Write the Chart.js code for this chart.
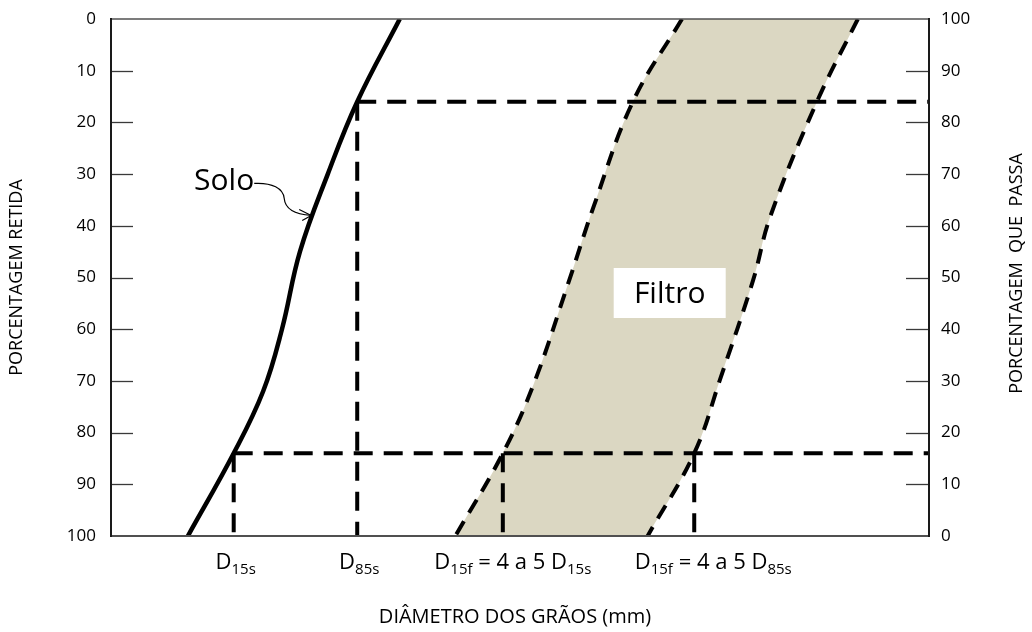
<!DOCTYPE html>
<html lang="pt">
<head>
<meta charset="utf-8">
<title>Critério de filtro – curvas granulométricas</title>
<script src="https://cdn.jsdelivr.net/npm/chart.js@4.4.1/dist/chart.umd.min.js"></script>
<style>
  html, body { margin: 0; padding: 0; background: #ffffff; }
  #quadro { width: 1032px; height: 632px; position: relative; }
</style>
</head>
<body>
<div id="quadro"><canvas id="grafico" width="1032" height="632"></canvas></div>
<script>
// Eixo horizontal: posição relativa do diâmetro (escala logarítmica esquemática, 0–100)
// Curva granulométrica do solo
const soloDiametro = [35.3, 30.1, 26.5, 23.1, 20.9, 18.6, 15.0, 9.4];
const soloRetida   = [0, 16, 30, 45, 60, 72, 84, 100];

// Faixa do filtro: limite fino (esquerda) e limite grosso (direita)
const filtroFinoDiametro   = [69.8, 63.8, 59.0, 55.9, 51.7, 47.9, 42.1];
const filtroFinoRetida     = [0, 16, 36.3, 51.1, 70.5, 84, 100];
const filtroGrossoDiametro = [91.3, 86.3, 80.6, 78.5, 74.5, 71.3, 65.6];
const filtroGrossoRetida   = [0, 16, 38.2, 50.5, 69.5, 84, 100];

// Diâmetros característicos (linhas verticais tracejadas) e onde começam
const marcaDiametro = [15.0, 30.1, 47.9, 71.3];
const marcaRetidaInicio = [84, 16, 84, 84];
// Rótulos do eixo horizontal: [texto, subscrito?]
const marcaRotulo = [
  [['D', 0], ['15s', 1]],
  [['D', 0], ['85s', 1]],
  [['D', 0], ['15f', 1], [' = 4 a 5 D', 0], ['15s', 1]],
  [['D', 0], ['15f', 1], [' = 4 a 5 D', 0], ['85s', 1]]
];

// Linhas horizontais tracejadas (85% e 15% que passa)
const linhaRetida = [16, 84];
const linhaDiametroInicio = [30.1, 15.0];

// Eixos
const retidaMin = 0, retidaMax = 100, retidaPasso = 10;
const diametroMin = 0, diametroMax = 100;

// Títulos
const tituloX = 'DIÂMETRO DOS GRÃOS (mm)';
const tituloRetida = 'PORCENTAGEM RETIDA';
const tituloPassa = 'PORCENTAGEM  QUE  PASSA';

// Anotações
const soloSeta = { diametro: 24.6, retida: 38 };
const filtroRotulo = { diametro: 68.3, retida: 53 };

const FONTE = '"Open Sans", "DejaVu Sans", sans-serif';

const pares = (xs, ys) => xs.map((x, i) => ({ x: x, y: ys[i] }));

const datasets = [
  {
    label: 'Filtro – limite fino',
    data: pares(filtroFinoDiametro, filtroFinoRetida),
    borderColor: '#000000', borderWidth: 4, borderDash: [15, 10],
    backgroundColor: '#dbd7c2', fill: '+1', tension: 0.4, order: 5
  },
  {
    label: 'Filtro – limite grosso',
    data: pares(filtroGrossoDiametro, filtroGrossoRetida),
    borderColor: '#000000', borderWidth: 4, borderDash: [15, 10],
    fill: false, tension: 0.4, order: 5
  }
];

linhaRetida.forEach((r, i) => {
  datasets.push({
    label: 'Linha ' + r,
    data: [{ x: linhaDiametroInicio[i], y: r }, { x: diametroMax, y: r }],
    borderColor: '#000000', borderWidth: 4, borderDash: [19, 11],
    fill: false, tension: 0, order: 3
  });
});

marcaDiametro.forEach((d, i) => {
  datasets.push({
    label: 'Marca ' + d,
    data: [{ x: d, y: marcaRetidaInicio[i] }, { x: d, y: retidaMax }],
    borderColor: '#000000', borderWidth: 4, borderDash: [19, 11],
    fill: false, tension: 0, order: 3
  });
});

datasets.push({
  label: 'Solo',
  data: pares(soloDiametro, soloRetida),
  borderColor: '#000000', borderWidth: 4.5,
  fill: false, tension: 0.4, order: 1
});

datasets.forEach(ds => {
  ds.yAxisID = 'yRet';
  ds.xAxisID = 'x';
  ds.pointRadius = 0;
  ds.pointHoverRadius = 0;
  ds.indexAxis = 'y';
});

// Texto com subscritos
function desenhaRotulo(ctx, partes, cx, base, tamNormal, tamSub) {
  const fNormal = tamNormal + 'px ' + FONTE;
  const fSub = tamSub + 'px ' + FONTE;
  let total = 0;
  partes.forEach(p => { ctx.font = p[1] ? fSub : fNormal; total += ctx.measureText(p[0]).width; });
  let x = cx - total / 2;
  ctx.textAlign = 'left';
  ctx.textBaseline = 'alphabetic';
  partes.forEach(p => {
    ctx.font = p[1] ? fSub : fNormal;
    ctx.fillText(p[0], x, p[1] ? base + 5 : base);
    x += ctx.measureText(p[0]).width;
  });
}

// Título vertical lido de baixo para cima
function tituloVertical(ctx, texto, x, y, tam) {
  ctx.save();
  ctx.translate(x, y);
  ctx.rotate(-Math.PI / 2);
  ctx.font = tam + 'px ' + FONTE;
  ctx.textAlign = 'center';
  ctx.textBaseline = 'middle';
  ctx.fillText(texto, 0, 0);
  ctx.restore();
}

// Eixos verticais sem folga extra acima/abaixo dos rótulos
function larguraFixa(w) {
  return function (s) { s.width = w; s.paddingTop = 0; s.paddingBottom = 0; };
}

const moldura = {
  id: 'moldura',
  afterDatasetsDraw(chart) {
    const { ctx, chartArea: a } = chart;
    const yR = chart.scales.yRet, yP = chart.scales.yPas, sx = chart.scales.x;
    ctx.save();
    // marcas internas dos eixos
    ctx.strokeStyle = '#3a3a3a';
    ctx.lineWidth = 1.3;
    for (let v = retidaMin + retidaPasso; v < retidaMax; v += retidaPasso) {
      const yl = Math.round(yR.getPixelForValue(v)) + 0.5;
      ctx.beginPath(); ctx.moveTo(a.left, yl); ctx.lineTo(a.left + 22, yl); ctx.stroke();
      const yr = Math.round(yP.getPixelForValue(v)) + 0.5;
      ctx.beginPath(); ctx.moveTo(a.right - 23, yr); ctx.lineTo(a.right, yr); ctx.stroke();
    }
    // bordas superior e inferior
    ctx.strokeStyle = '#505050';
    ctx.lineWidth = 1.5;
    ctx.beginPath(); ctx.moveTo(a.left, a.top); ctx.lineTo(a.right, a.top); ctx.stroke();
    ctx.lineWidth = 2;
    ctx.beginPath(); ctx.moveTo(a.left, a.bottom); ctx.lineTo(a.right, a.bottom); ctx.stroke();
    // eixos verticais
    ctx.strokeStyle = '#1a1a1a';
    ctx.lineWidth = 2;
    ctx.beginPath(); ctx.moveTo(a.left, a.top - 1); ctx.lineTo(a.left, a.bottom + 1); ctx.stroke();
    ctx.beginPath(); ctx.moveTo(a.right, a.top - 1); ctx.lineTo(a.right, a.bottom + 1); ctx.stroke();

    // rótulo "Solo" com seta curva
    const tx = sx.getPixelForValue(soloSeta.diametro) - 1;
    const ty = yR.getPixelForValue(soloSeta.retida);
    ctx.fillStyle = '#000';
    ctx.font = '30px ' + FONTE;
    ctx.textAlign = 'right';
    ctx.textBaseline = 'alphabetic';
    ctx.fillText('Solo', tx - 57, ty - 25);
    ctx.strokeStyle = '#000';
    ctx.lineWidth = 1.2;
    ctx.beginPath();
    ctx.moveTo(tx - 57, ty - 32);
    ctx.bezierCurveTo(tx - 39, ty - 33, tx - 28, ty - 27, tx - 27, ty - 17);
    ctx.bezierCurveTo(tx - 26, ty - 5, tx - 14, ty - 1, tx, ty);
    ctx.stroke();
    ctx.beginPath();
    ctx.moveTo(tx - 12, ty - 6); ctx.lineTo(tx, ty); ctx.lineTo(tx - 9, ty + 5);
    ctx.stroke();

    // caixa "Filtro"
    const fx = sx.getPixelForValue(filtroRotulo.diametro);
    const fy = yR.getPixelForValue(filtroRotulo.retida);
    ctx.fillStyle = '#ffffff';
    ctx.fillRect(fx - 56, fy - 25, 112, 50);
    ctx.fillStyle = '#000';
    ctx.font = '30px ' + FONTE;
    ctx.textAlign = 'center';
    ctx.textBaseline = 'middle';
    ctx.fillText('Filtro', fx, fy + 1);

    // rótulos dos diâmetros característicos
    const desloc = [2, 2, 10, 19];
    ctx.fillStyle = '#000';
    marcaDiametro.forEach((d, i) => {
      desenhaRotulo(ctx, marcaRotulo[i], sx.getPixelForValue(d) + desloc[i], a.bottom + 33, 22, 15);
    });

    // títulos dos eixos
    const meio = (a.top + a.bottom) / 2;
    tituloVertical(ctx, tituloRetida, 17, meio, 18);
    tituloVertical(ctx, tituloPassa, 1017, meio - 4, 18);
    ctx.font = '20px ' + FONTE;
    ctx.textAlign = 'center';
    ctx.textBaseline = 'middle';
    ctx.fillText(tituloX, chart.width / 2 - 1, 617);
    ctx.restore();
  }
};

new Chart(document.getElementById('grafico'), {
  type: 'line',
  data: { datasets: datasets },
  plugins: [moldura],
  options: {
    responsive: false,
    animation: false,
    indexAxis: 'y',
    layout: { padding: { top: 19, bottom: 0, left: 0, right: 0 } },
    plugins: {
      legend: { display: false },
      tooltip: { enabled: false },
      filler: { drawTime: 'beforeDatasetsDraw' }
    },
    scales: {
      x: {
        type: 'linear', axis: 'x', position: 'bottom', min: diametroMin, max: diametroMax,
        ticks: { display: false },
        grid: { display: false, drawTicks: false },
        border: { display: false },
        afterFit(s) { s.height = 96; }
      },
      yRet: {
        type: 'linear', axis: 'y', position: 'left', reverse: true, min: retidaMin, max: retidaMax,
        ticks: { stepSize: retidaPasso, color: '#000', font: { family: FONTE, size: 17 }, padding: 15 },
        grid: { display: false, drawTicks: false },
        border: { display: false },
        afterFit: larguraFixa(111)
      },
      yPas: {
        type: 'linear', axis: 'y', position: 'right', min: retidaMin, max: retidaMax,
        ticks: { stepSize: retidaPasso, color: '#000', font: { family: FONTE, size: 17 }, padding: 12 },
        grid: { display: false, drawTicks: false },
        border: { display: false },
        afterFit: larguraFixa(103)
      }
    }
  }
});
</script>
</body>
</html>
